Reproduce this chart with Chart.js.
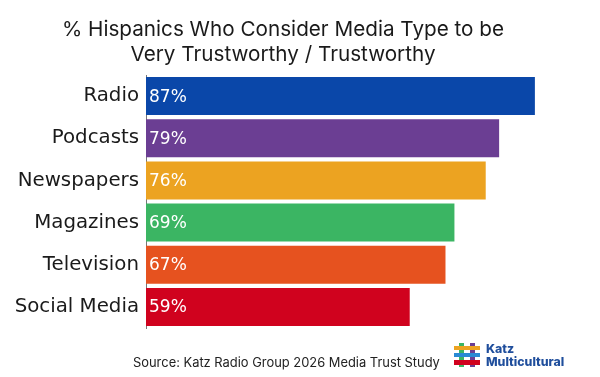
<!DOCTYPE html>
<html>
<head>
<meta charset="utf-8">
<script src="https://cdn.jsdelivr.net/npm/chart.js@4"></script>
<style>
  html,body{margin:0;padding:0;background:#fff;}
  #wrap{position:relative;width:600px;height:377px;overflow:hidden;font-family:Inter, "Open Sans", sans-serif;}
  #c{position:absolute;left:0;top:0;}
  #title{position:absolute;left:0;top:16px;width:566px;text-align:center;font-size:20.7px;line-height:25px;color:#1a1a1a;}
  #source{position:absolute;left:133px;top:355px;font-size:12.9px;color:#222;white-space:nowrap;}
  #logo{position:absolute;left:454px;top:343px;width:26px;height:24px;}
  #logo div{position:absolute;}
  #logotext{position:absolute;left:486px;top:342px;font-size:12.3px;line-height:13px;font-weight:800;color:#1f4e9c;}
</style>
</head>
<body>
<div id="wrap">
  <canvas id="c" width="600" height="377"></canvas>
  <div id="title"></div>
  <div id="source"></div>
  <div id="logo">
    <div style="left:5px;top:0;width:5px;height:24px;background:#3bb563"></div>
    <div style="left:16px;top:0;width:5px;height:24px;background:#6b3e93"></div>
    <div style="left:0;top:3px;width:26px;height:4px;background:#eca321"></div>
    <div style="left:0;top:10px;width:26px;height:4px;background:#2a8ad4"></div>
    <div style="left:0;top:17px;width:26px;height:5px;background:#d0021e"></div>
  </div>
  <div id="logotext">Katz<br>Multicultural</div>
</div>
<script>
const titleLines = ["% Hispanics Who Consider Media Type to be", "Very Trustworthy / Trustworthy"];
const sourceText = "Source: Katz Radio Group 2026 Media Trust Study";
const categories = ["Radio", "Podcasts", "Newspapers", "Magazines", "Television", "Social Media"];
const values = [87, 79, 76, 69, 67, 59];
const barColors = ["#0a47a9", "#6b3e93", "#eca321", "#3bb563", "#e6521f", "#d0021e"];

document.getElementById('title').innerHTML = titleLines.join('<br>');
document.getElementById('source').textContent = sourceText;

const valueLabels = {
  id: 'valueLabels',
  afterDatasetsDraw(chart) {
    const ctx = chart.ctx;
    const meta = chart.getDatasetMeta(0);
    ctx.save();
    ctx.fillStyle = '#ffffff';
    ctx.font = '17px "DejaVu Sans", sans-serif';
    ctx.textAlign = 'left';
    ctx.textBaseline = 'middle';
    meta.data.forEach((bar, i) => {
      ctx.fillText(values[i] + '%', bar.base + 3, bar.y + 1);
    });
    ctx.restore();
  }
};

new Chart(document.getElementById('c'), {
  type: 'bar',
  data: {
    labels: categories,
    datasets: [{
      data: values,
      backgroundColor: barColors,
      borderWidth: 0,
      barPercentage: 0.9,
      categoryPercentage: 1.0
    }]
  },
  options: {
    indexAxis: 'y',
    responsive: false,
    animation: false,
    events: [],
    layout: { padding: { top: 75, bottom: 49, left: 0, right: 7 } },
    plugins: { legend: { display: false }, tooltip: { enabled: false } },
    scales: {
      x: { display: false, min: 0, max: 100 },
      y: {
        grid: { display: false, drawTicks: false },
        border: { display: true, color: '#777', width: 1 },
        ticks: { color: '#1a1a1a', font: { size: 19.8, family: '"DejaVu Sans", sans-serif' }, padding: 7 },
        afterFit(scale) { scale.width = 146; }
      }
    }
  },
  plugins: [valueLabels]
});
</script>
</body>
</html>
